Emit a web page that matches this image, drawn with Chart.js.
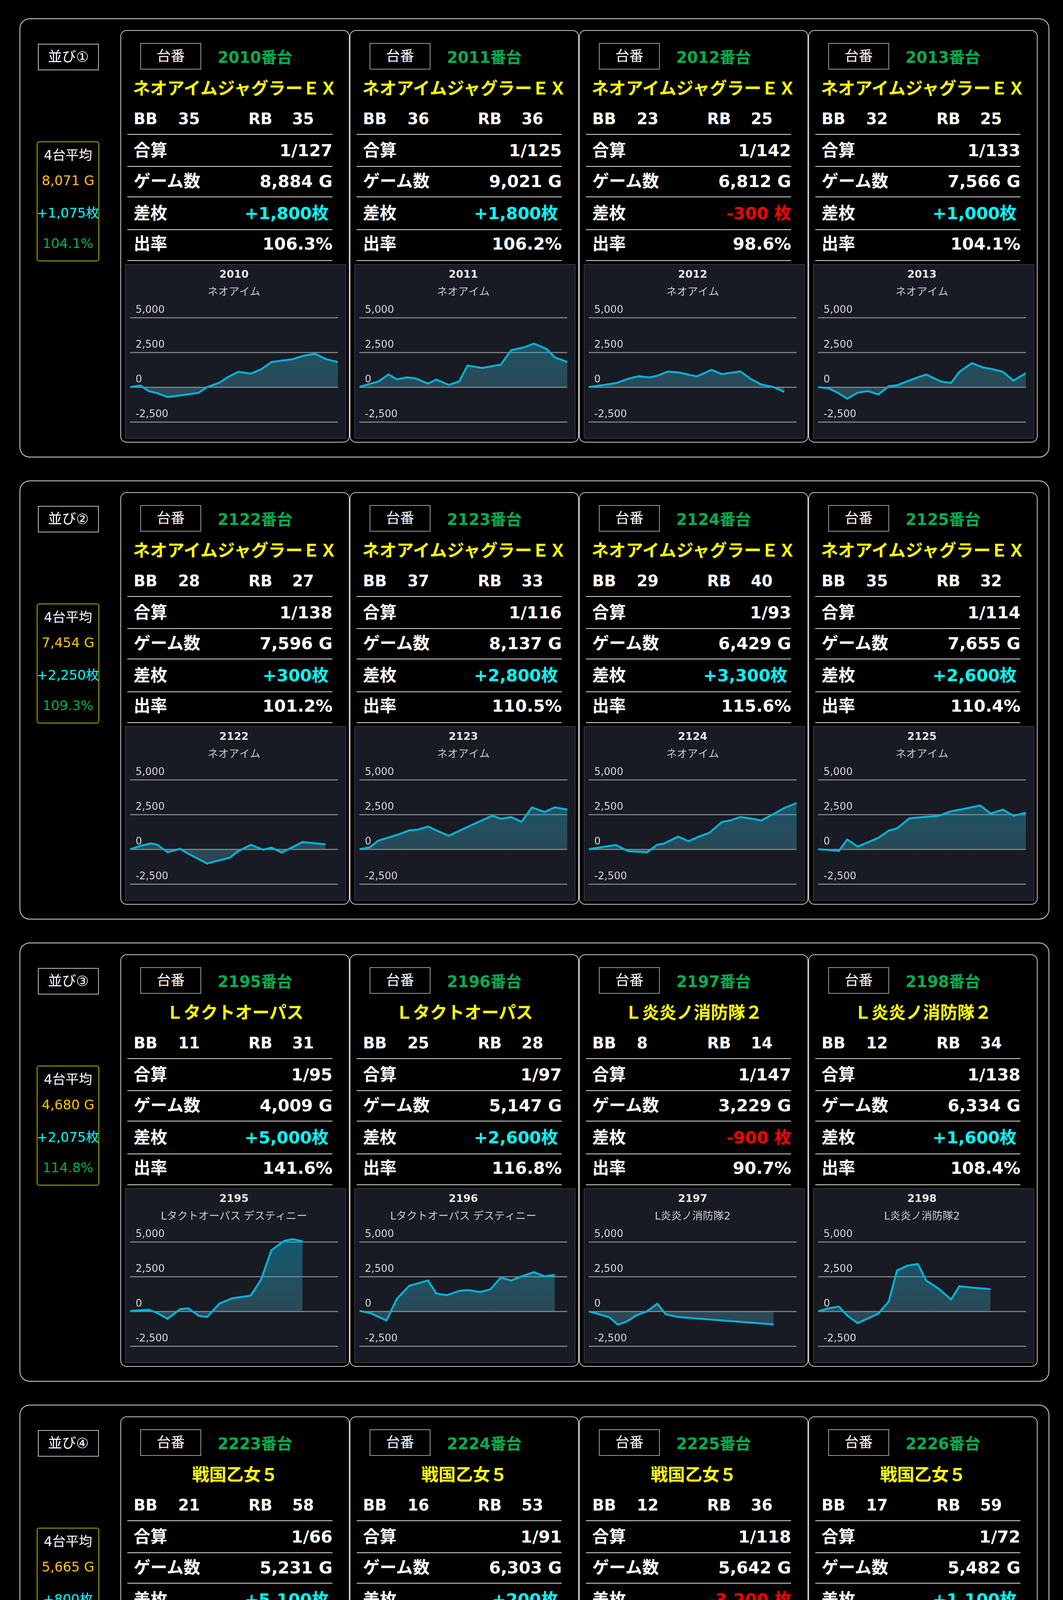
<!DOCTYPE html>
<html lang="ja">
<head>
<meta charset="utf-8">
<title>並び別 差枚データ</title>
<script src="https://cdn.jsdelivr.net/npm/chart.js@4.4.1/dist/chart.umd.min.js"></script>
<style>
  html, body { margin: 0; padding: 0; background: #000; }
  body { width: 2721px; height: 5933px; position: relative; overflow: hidden;
         font-family: "DejaVu Sans", "Noto Sans CJK JP", sans-serif; color: #fff; }
  .group { position: absolute; left: 50px; width: 2636px; height: 1124px; box-sizing: border-box;
           border: 2px solid #d8d8d8; border-radius: 26px; }
  .tag { position: absolute; left: 45px; top: 63px; width: 156px; height: 68px; box-sizing: border-box;
         border: 2px solid #bdbdbd; font-size: 36px; line-height: 64px; text-align: center; }
  .avg { position: absolute; left: 42px; top: 313px; width: 160px; height: 307px; box-sizing: border-box;
         border: 2px solid #b4b400; border-radius: 6px; font-size: 34px; }
  .avg div { position: absolute; left: -20px; right: -20px; height: 40px; line-height: 40px;
             text-align: center; white-space: nowrap; }
  .card { position: absolute; top: 28px; width: 587px; height: 1056px; box-sizing: border-box;
          border: 2px solid #c8c8c8; border-radius: 16px; }
  .no { position: absolute; left: 49px; top: 31px; width: 156px; height: 68px; box-sizing: border-box;
        border: 2px solid #9a9a9a; font-size: 36px; line-height: 64px; text-align: center; }
  .unit { position: absolute; left: 247px; top: 43px; height: 50px; line-height: 50px;
          font-size: 40px; font-weight: bold; color: #00b050; white-space: nowrap; }
  .name { position: absolute; left: 0; right: 0; top: 120px; height: 56px; line-height: 56px;
          font-size: 44px; font-weight: bold; color: #ffff00; text-align: center; white-space: nowrap; }
  .bb { position: absolute; top: 200px; height: 50px; line-height: 50px; font-size: 40px; font-weight: bold; }
  .rule { position: absolute; left: 16px; width: 525px; height: 2px; background: #e0e0e0; }
  .lbl { position: absolute; left: 32px; height: 50px; line-height: 50px; font-size: 43px; font-weight: bold; white-space: nowrap; }
  .val { position: absolute; right: 42px; height: 50px; line-height: 50px; font-size: 43px; font-weight: bold; white-space: nowrap; }
  .val.plus { right: 52px; color: #00ffff; }
  .val.minus { color: #ff0000; }
  .panel { position: absolute; left: 10px; top: 597px; width: 566px; height: 447px; box-sizing: border-box;
           background: #181b23; border: 2px solid #34373e; }
</style>
</head>
<body>
<script>
// 並び（グループ）ごとの平均
const GROUPS = ['並び①', '並び②', '並び③', '並び④', '並び⑤'];
const AVG_GAMES = [8071, 7454, 4680, 5665, 7550];
const AVG_DIFF = [1075, 2250, 2075, 800, 2375];
const AVG_RATE = [104.1, 109.3, 114.8, 104.7, 110.5];

// 台ごとのデータ（並び順）
const UNITS = [2010, 2011, 2012, 2013, 2122, 2123, 2124, 2125, 2195, 2196, 2197, 2198,
               2223, 2224, 2225, 2226, 3040, 3041, 3042, 3043];
const MODELS = ['ネオアイムジャグラーＥＸ', 'ネオアイムジャグラーＥＸ', 'ネオアイムジャグラーＥＸ', 'ネオアイムジャグラーＥＸ',
                'ネオアイムジャグラーＥＸ', 'ネオアイムジャグラーＥＸ', 'ネオアイムジャグラーＥＸ', 'ネオアイムジャグラーＥＸ',
                'Ｌタクトオーパス', 'Ｌタクトオーパス', 'Ｌ炎炎ノ消防隊２', 'Ｌ炎炎ノ消防隊２',
                '戦国乙女５', '戦国乙女５', '戦国乙女５', '戦国乙女５',
                'グランベルム', 'Ｓこのすば!', 'Ｓこのすば!', 'Ｓこのすば!'];
const SHORT_NAMES = ['ネオアイム', 'ネオアイム', 'ネオアイム', 'ネオアイム',
                     'ネオアイム', 'ネオアイム', 'ネオアイム', 'ネオアイム',
                     'Lタクトオーパス デスティニー', 'Lタクトオーパス デスティニー', 'L炎炎ノ消防隊2', 'L炎炎ノ消防隊2',
                     'L戦国乙女5', 'L戦国乙女5', 'L戦国乙女5', 'L戦国乙女5',
                     'グランベルム', 'このすば', 'このすば', 'このすば'];
const BB = [35, 36, 23, 32, 28, 37, 29, 35, 11, 25, 8, 12, 21, 16, 12, 17, 156, 17, 21, 30];
const RB = [35, 36, 25, 25, 27, 33, 40, 32, 31, 28, 14, 34, 58, 53, 36, 59, 159, 120, 173, 125];
const ODDS = [127, 125, 142, 133, 138, 116, 93, 114, 95, 97, 147, 138, 66, 91, 118, 72, 27, 44, 39, 53];
const GAMES = [8884, 9021, 6812, 7566, 7596, 8137, 6429, 7655, 4009, 5147, 3229, 6334,
               5231, 6303, 5642, 5482, 8415, 6003, 7606, 8175];
const DIFF = [1800, 1800, -300, 1000, 300, 2800, 3300, 2600, 5000, 2600, -900, 1600,
              5100, 200, -3200, 1100, 4500, 1900, 4400, -1300];
const RATE = [106.3, 106.2, 98.6, 104.1, 101.2, 110.5, 115.6, 110.4, 141.6, 116.8, 90.7, 108.4,
              132.5, 101.1, 81.1, 106.7, 117.8, 110.6, 119.3, 94.7];

// 差枚グラフ（横軸は営業時間の経過 0-100、縦軸は差枚）
const Y_TICKS = [-2500, 0, 2500, 5000];

const X_2010 = [0, 5, 9, 13, 18, 22, 28, 33, 37, 43, 47, 52, 58, 63, 68, 73, 78, 83, 89, 94, 100];
const Y_2010 = [0, 110, -290, -430, -710, -640, -520, -410, 0, 320, 720, 1100, 970, 1280, 1800, 1910, 2000, 2240, 2400, 2030, 1800];
const X_2011 = [0, 9, 14, 18, 23, 27, 33, 37, 43, 48, 52, 59, 68, 73, 79, 84, 90, 94, 100];
const Y_2011 = [20, 400, 910, 560, 700, 630, 250, 540, 160, 410, 1550, 1380, 1620, 2660, 2850, 3130, 2750, 2140, 1810];
const X_2012 = [0, 6, 13, 19, 24, 29, 33, 38, 43, 52, 59, 64, 73, 78, 83, 89, 94];
const Y_2012 = [0, 130, 280, 600, 790, 700, 820, 1120, 1060, 770, 1240, 940, 1130, 580, 190, 0, -340];
const X_2013 = [0, 5, 10, 14, 19, 24, 29, 34, 38, 45, 52, 59, 64, 68, 74, 79, 84, 89, 94, 100];
const Y_2013 = [0, -80, -450, -830, -400, -280, -530, 70, 130, 540, 910, 410, 300, 1100, 1730, 1430, 1290, 1100, 470, 1010];

const X_2122 = [0, 5, 10, 13, 18, 24, 27, 37, 48, 52, 58, 64, 68, 73, 83, 94];
const Y_2122 = [0, 240, 420, 330, -220, 30, -240, -1030, -610, -140, 310, -30, 120, -240, 520, 350];
const X_2123 = [0, 5, 9, 15, 20, 24, 28, 33, 37, 43, 48, 52, 58, 64, 68, 73, 78, 83, 89, 94, 100];
const Y_2123 = [0, 140, 610, 890, 1130, 1360, 1410, 1630, 1360, 970, 1320, 1600, 2020, 2420, 2190, 2320, 1970, 3010, 2680, 3010, 2850];
const X_2124 = [0, 6, 13, 19, 28, 33, 36, 43, 48, 53, 58, 64, 68, 73, 78, 83, 89, 94, 100];
const Y_2124 = [0, 140, 310, -140, -220, 330, 400, 910, 580, 910, 1180, 1950, 2070, 2320, 2210, 2070, 2540, 2960, 3320];
const X_2125 = [0, 5, 10, 14, 19, 24, 29, 34, 38, 44, 51, 58, 64, 69, 78, 83, 89, 94, 100];
const Y_2125 = [0, -50, -120, 700, 190, 500, 820, 1340, 1500, 2230, 2320, 2400, 2730, 2870, 3150, 2570, 2850, 2400, 2630];

const X_2195 = [0, 9, 13, 18, 24, 28, 33, 37, 43, 49, 58, 63, 68, 74, 78, 83];
const Y_2195 = [30, 120, -110, -540, 150, 220, -320, -410, 560, 940, 1130, 2280, 4400, 5060, 5200, 5040];
const X_2196 = [0, 5, 13, 18, 24, 33, 37, 42, 48, 52, 58, 63, 68, 73, 79, 84, 89, 94];
const Y_2196 = [30, -110, -660, 900, 1840, 2220, 1280, 1160, 1470, 1530, 1390, 1580, 2430, 2220, 2570, 2820, 2520, 2630];
const X_2197 = [0, 5, 10, 14, 18, 23, 28, 33, 37, 43, 89];
const Y_2197 = [0, -210, -440, -960, -750, -280, 0, 550, -210, -410, -940];
const X_2198 = [0, 5, 10, 14, 19, 24, 29, 34, 38, 43, 48, 52, 58, 64, 68, 73, 83];
const Y_2198 = [0, 220, 340, -300, -850, -510, -160, 710, 2940, 3290, 3410, 2220, 1630, 850, 1810, 1720, 1600];

const X_2223 = [0, 4, 9, 14, 17, 22, 32, 41, 47, 57, 67, 72, 78, 83];
const Y_2223 = [40, 130, -430, 90, 980, 3710, 4510, 3100, 3310, 2270, 3100, 5170, 5340, 5130];
const X_2224 = [0, 4, 9, 14, 19, 22, 28, 36, 41, 48, 52, 57, 62, 67, 72, 77, 82, 87];
const Y_2224 = [40, 130, -340, 250, -410, -530, 650, 1640, 980, 410, 130, 2160, 2520, 2440, 1710, 1550, 840, 180];
const X_2225 = [0, 3, 10, 27, 31, 40, 47, 52, 59, 71, 79, 87];
const Y_2225 = [40, 130, -340, -2520, -3000, -3300, -2350, -3100, -3400, -3300, -3500, -3200];
const X_2226 = [0, 5, 10, 14, 19, 24, 29, 33, 38, 43, 48, 53, 58, 64, 68, 73, 78, 83];
const Y_2226 = [40, -30, -150, 270, 930, 1070, 1220, 930, 510, 160, 1030, 460, 1100, 1950, 1640, 1170, 1670, 1120];

const X_3040 = [0, 5, 10, 13, 18, 24, 28, 32, 37, 42, 48, 52, 58, 68, 73, 79, 83, 89, 94, 100];
const Y_3040 = [20, -80, -310, -220, 210, 730, 1950, 1790, 2020, 1910, 2300, 2570, 3320, 3020, 3230, 4150, 4400, 4190, 4430, 4550];
const X_3041 = [0, 5, 10, 14, 18, 23, 28, 33, 37, 43, 48, 52, 58, 64, 68, 73, 78, 84, 90, 95, 100];
const Y_3041 = [0, -120, -340, 110, 630, 750, 890, 1010, 210, 0, 440, 870, 1130, 1620, 1290, 1950, 1620, 980, 1100, 1480, 1920];
const X_3042 = [0, 5, 10, 14, 18, 23, 28, 33, 38, 43, 48, 52, 58, 64, 68, 73, 78, 83, 89, 94, 100];
const Y_3042 = [0, -120, 210, -120, -340, -150, 70, 320, 1510, 1420, 1170, 2110, 1950, 1760, 2110, 2020, 1890, 2240, 1980, 3410, 4400];
const X_3043 = [0, 6, 10, 14, 19, 24, 29, 33, 37, 43, 48, 53, 58, 64, 68, 73, 78, 84, 89, 94];
const Y_3043 = [0, -340, -170, -850, -1110, -1210, -1320, -1410, -1190, -1730, -1600, -1850, -2100, -1490, -910, -1130, -780, -1110, -1210, -1320];

const SERIES = {
  2010: [X_2010, Y_2010], 2011: [X_2011, Y_2011], 2012: [X_2012, Y_2012], 2013: [X_2013, Y_2013],
  2122: [X_2122, Y_2122], 2123: [X_2123, Y_2123], 2124: [X_2124, Y_2124], 2125: [X_2125, Y_2125],
  2195: [X_2195, Y_2195], 2196: [X_2196, Y_2196], 2197: [X_2197, Y_2197], 2198: [X_2198, Y_2198],
  2223: [X_2223, Y_2223], 2224: [X_2224, Y_2224], 2225: [X_2225, Y_2225], 2226: [X_2226, Y_2226],
  3040: [X_3040, Y_3040], 3041: [X_3041, Y_3041], 3042: [X_3042, Y_3042], 3043: [X_3043, Y_3043]
};

Chart.defaults.font.family = "'DejaVu Sans', 'Noto Sans CJK JP', sans-serif";
Chart.defaults.animation = false;

const fmt = n => n.toLocaleString('en-US');
const diffText = n => n > 0 ? '+' + fmt(n) + '枚' : fmt(n) + ' 枚';

function el(tag, cls, parent, text) {
  const e = document.createElement(tag);
  if (cls) e.className = cls;
  if (text !== undefined) e.textContent = text;
  parent.appendChild(e);
  return e;
}

function areaFill(chart) {
  const a = chart.chartArea;
  if (!a) return 'rgba(0,170,210,0.35)';
  const g = chart.ctx.createLinearGradient(0, a.top, 0, a.bottom);
  g.addColorStop(0, 'rgba(0,170,210,0.45)');
  g.addColorStop(1, 'rgba(120,165,185,0.28)');
  return g;
}

function drawChart(canvas, unit, sub) {
  const [xs, ys] = SERIES[unit];
  new Chart(canvas, {
    type: 'line',
    data: {
      datasets: [{
        data: xs.map((x, i) => ({ x: x, y: ys[i] })),
        borderColor: '#00b4d8',
        borderWidth: 5,
        pointRadius: 0,
        tension: 0,
        fill: 'origin',
        backgroundColor: ctx => areaFill(ctx.chart)
      }]
    },
    options: {
      responsive: true,
      maintainAspectRatio: false,
      layout: { padding: { left: 11, right: 19, bottom: 41, top: 0 } },
      plugins: {
        legend: { display: false },
        tooltip: { enabled: false },
        title: { display: true, text: String(unit), color: '#e8e8e8',
                 font: { size: 27, weight: 'bold' }, padding: { top: 10, bottom: 12 } },
        subtitle: { display: true, text: sub, color: '#cfcfcf',
                    font: { size: 27 }, padding: { top: 0, bottom: 27 } }
      },
      scales: {
        x: { type: 'linear', min: 0, max: 100, display: false },
        y: {
          min: -2500, max: 5600,
          afterBuildTicks: s => { s.ticks = Y_TICKS.map(v => ({ value: v })); },
          afterFit: s => { s.width = 0; },
          border: { display: false },
          grid: { color: '#7c7e84', lineWidth: 3, drawTicks: false },
          ticks: { mirror: true, padding: 14, labelOffset: -19, color: '#d8d8d8',
                   font: { size: 26 }, callback: v => fmt(v) }
        }
      }
    }
  });
}

GROUPS.forEach((name, gi) => {
  const sec = el('div', 'group', document.body);
  sec.style.top = (47 + gi * 1183) + 'px';
  el('div', 'tag', sec, name);

  const avg = el('div', 'avg', sec);
  const rows = [
    ['4台平均', '#ffffff', 33],
    [fmt(AVG_GAMES[gi]) + ' G', '#ffc000', 98],
    [diffText(AVG_DIFF[gi]), '#00ffff', 181],
    [AVG_RATE[gi].toFixed(1) + '%', '#00b050', 259]
  ];
  rows.forEach(([t, c, y]) => {
    const d = el('div', '', avg, t);
    d.style.color = c;
    d.style.top = (y - 20) + 'px';
  });

  for (let c = 0; c < 4; c++) {
    const i = gi * 4 + c;
    const card = el('div', 'card', sec);
    card.style.left = (256 + c * 587) + 'px';

    el('div', 'no', card, '台番');
    el('div', 'unit', card, UNITS[i] + '番台');
    el('div', 'name', card, MODELS[i]);

    [['BB', 32], [String(BB[i]), 146], ['RB', 326], [String(RB[i]), 438]].forEach(([t, x]) => {
      el('div', 'bb', card, t).style.left = x + 'px';
    });

    [264, 346, 424, 508, 587].forEach(y => { el('div', 'rule', card).style.top = y + 'px'; });

    const items = [
      ['合算', '1/' + ODDS[i], '', 306],
      ['ゲーム数', fmt(GAMES[i]) + ' G', '', 385],
      ['差枚', diffText(DIFF[i]), DIFF[i] > 0 ? 'plus' : 'minus', 467],
      ['出率', RATE[i].toFixed(1) + '%', '', 545]
    ];
    items.forEach(([l, v, cls, y]) => {
      el('div', 'lbl', card, l).style.top = (y - 25) + 'px';
      el('div', 'val ' + cls, card, v).style.top = (y - 25) + 'px';
    });

    const panel = el('div', 'panel', card);
    const canvas = el('canvas', '', panel);
    drawChart(canvas, UNITS[i], SHORT_NAMES[i]);
  }
});
</script>
</body>
</html>
